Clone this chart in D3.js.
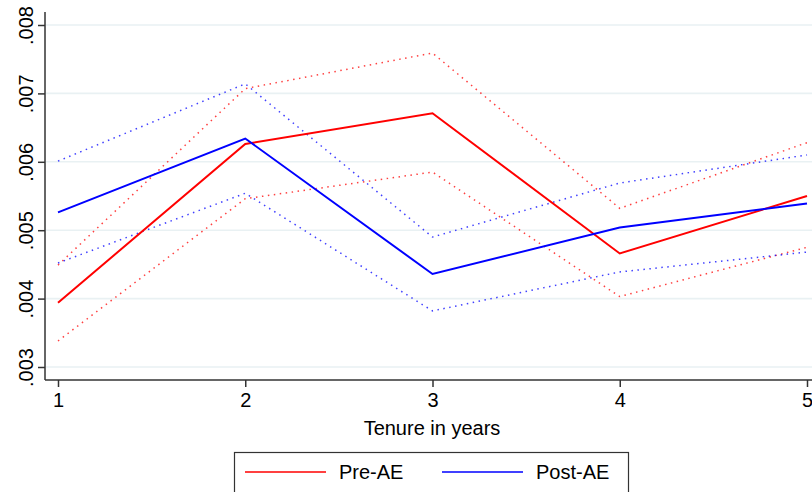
<!DOCTYPE html>
<html>
<head>
<meta charset="utf-8">
<script src="https://cdn.jsdelivr.net/npm/d3@7"></script>
<style>
  body { margin: 0; background: #fff; }
  svg { font-family: "Liberation Sans", Arial, sans-serif; }
</style>
</head>
<body>
<div class="canva"></div>
<script>
// data
const tenure = [1, 2, 3, 4, 5];
const preAE = [0.00394, 0.00626, 0.00671, 0.00466, 0.00550];
const preUpper = [0.00449, 0.00707, 0.00759, 0.00532, 0.00628];
const preLower = [0.00338, 0.00546, 0.00585, 0.00403, 0.00475];
const postAE = [0.00526, 0.00634, 0.00436, 0.00504, 0.00539];
const postUpper = [0.00601, 0.00714, 0.00490, 0.00569, 0.00610];
const postLower = [0.00452, 0.00554, 0.00382, 0.00439, 0.00468];
const yTicks = [0.003, 0.004, 0.005, 0.006, 0.007, 0.008];

const svg = d3.select(".canva").append("svg")
    .attr("width", 812)
    .attr("height", 492);

const x = d3.scaleLinear().domain([1, 5]).range([58, 807]);
const y = d3.scaleLinear().domain([0.003, 0.008]).range([367, 25]);

// gridlines
svg.append("g")
    .selectAll("line")
    .data(yTicks)
    .enter()
    .append("line")
    .attr("x1", 46).attr("x2", 812)
    .attr("y1", d => y(d)).attr("y2", d => y(d))
    .attr("stroke", "#e9f1f3")
    .attr("stroke-width", 1.6);

const line = d3.line()
    .x((d, i) => x(tenure[i]))
    .y(d => y(d));

const series = [
    {vals: preUpper, color: "#ff0000", dotted: true},
    {vals: preLower, color: "#ff0000", dotted: true},
    {vals: postUpper, color: "#0000ff", dotted: true},
    {vals: postLower, color: "#0000ff", dotted: true},
    {vals: preAE, color: "#ff0000", dotted: false},
    {vals: postAE, color: "#0000ff", dotted: false}
];

svg.append("g")
    .selectAll("path")
    .data(series)
    .enter()
    .append("path")
    .attr("d", d => line(d.vals))
    .attr("fill", "none")
    .attr("stroke", d => d.color)
    .attr("stroke-width", d => d.dotted ? 1.5 : 2)
    .attr("stroke-dasharray", d => d.dotted ? "1.5,4.5" : null)
    .attr("opacity", d => d.dotted ? 0.75 : 1);

// y axis
const yAxis = svg.append("g")
    .attr("transform", "translate(45,0)")
    .call(d3.axisLeft(y).tickValues(yTicks).tickSize(7).tickPadding(4)
        .tickFormat(d => d3.format(".3f")(d).replace(/^0/, "")));
yAxis.select(".domain").attr("d", "M0,12V380").attr("stroke", "#333").attr("stroke-width", 1.5);
yAxis.selectAll(".tick line").attr("stroke", "#333").attr("stroke-width", 1.5);
yAxis.selectAll(".tick text")
    .attr("transform", "rotate(-90)")
    .attr("x", 0)
    .attr("y", -12)
    .attr("dy", 0)
    .attr("text-anchor", "middle")
    .style("font-size", "20px")
    .attr("fill", "#000");

// x axis
const xAxis = svg.append("g")
    .attr("transform", "translate(0,380)")
    .call(d3.axisBottom(x).tickValues(tenure).tickSize(7).tickPadding(6)
        .tickFormat(d3.format("d")));
xAxis.select(".domain").attr("d", "M45,0H812").attr("stroke", "#333").attr("stroke-width", 1.5);
xAxis.selectAll(".tick line").attr("stroke", "#333").attr("stroke-width", 1.5);
xAxis.selectAll(".tick text")
    .style("font-size", "20px")
    .attr("fill", "#000");

svg.append("text")
    .attr("x", 432)
    .attr("y", 435)
    .attr("text-anchor", "middle")
    .style("font-size", "20px")
    .text("Tenure in years");

// legend
const legend = svg.append("g");
legend.append("rect")
    .attr("x", 234.5).attr("y", 452.5)
    .attr("width", 394).attr("height", 60)
    .attr("fill", "#fff")
    .attr("stroke", "#333")
    .attr("stroke-width", 1.2);

const legendItems = [
    {label: "Pre-AE", color: "#ff0000", x0: 245},
    {label: "Post-AE", color: "#0000ff", x0: 442}
];
legendItems.forEach(d => {
    legend.append("line")
        .attr("x1", d.x0).attr("x2", d.x0 + 81)
        .attr("y1", 472).attr("y2", 472)
        .attr("stroke", d.color)
        .attr("stroke-width", 1.6);
    legend.append("text")
        .attr("x", d.x0 + 94)
        .attr("y", 479)
        .style("font-size", "20px")
        .text(d.label);
});
</script>
</body>
</html>
